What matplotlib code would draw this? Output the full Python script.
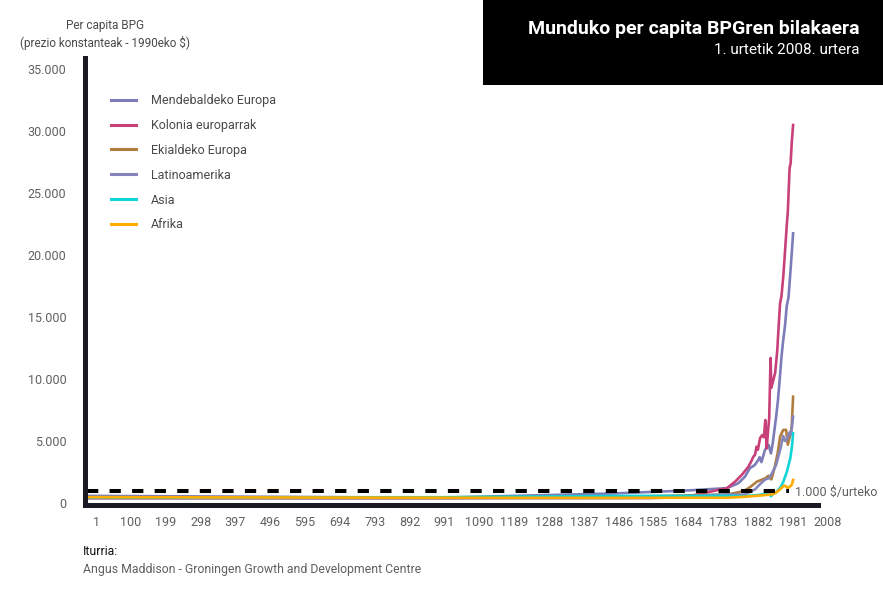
import numpy as np
import matplotlib
matplotlib.use('Agg')
import matplotlib.pyplot as plt
from matplotlib.patches import Rectangle

# ---- data (1990 GK $ per capita) ----
we_years = [1, 1000, 1500, 1600, 1700, 1820, 1852, 1871, 1885, 1899, 1909, 1913, 1918, 1928, 1938, 1945,
            1950, 1955, 1960, 1965, 1970, 1975, 1980, 1985, 1990, 1995, 2000, 2005, 2008]
we_vals = [576, 427, 771, 889, 997, 1200, 1590, 2120, 2800, 3065, 3470, 3700, 3300, 4275, 4700, 4000,
           4800, 5900, 7000, 8300, 10000, 11800, 13150, 14300, 15900, 16600, 18500, 20500, 21750]

off_years = [1, 1000, 1500, 1600, 1700, 1820, 1843, 1862, 1881, 1888, 1895, 1900, 1904, 1908, 1914, 1920,
             1925, 1929, 1933, 1937, 1940, 1944, 1946, 1950, 1957, 1963, 1967, 1971, 1975, 1980, 1984,
             1990, 1993, 1998, 2001, 2004, 2008]
off_vals = [400, 400, 400, 400, 476, 1200, 1720, 2260, 2930, 3300, 3735, 3900, 4540, 4300, 5220, 5480,
            5300, 6690, 4400, 5900, 6800, 11700, 9300, 9700, 10500, 12300, 14300, 16100, 16700, 18250, 19860,
            22400, 23500, 27000, 27400, 29000, 30485]

ee_years = [1, 1000, 1500, 1600, 1700, 1820, 1850, 1870, 1885, 1905, 1929, 1938, 1946, 1950, 1957, 1964,
            1971, 1980, 1988, 1993, 2000, 2004, 2008]
ee_vals = [400, 400, 496, 548, 606, 683, 850, 1000, 1265, 1720, 1990, 2200, 1900, 2260, 3065, 4000,
           5350, 5890, 5900, 4700, 5500, 6150, 8570]

la_years = [1, 1000, 1500, 1600, 1700, 1820, 1870, 1900, 1913, 1929, 1940, 1950, 1960, 1973, 1980, 1985,
            1990, 1998, 2002, 2008]
la_vals = [400, 400, 416, 438, 527, 691, 676, 1100, 1490, 1900, 2000, 2500, 3100, 4500, 5400, 5000,
           5100, 5700, 5500, 6960]

asia_years = [1, 1000, 1500, 1600, 1700, 1820, 1870, 1913, 1940, 1945, 1950, 1960, 1973, 1980, 1990,
              2000, 2005, 2008]
asia_vals = [456, 465, 568, 574, 572, 577, 550, 658, 800, 550, 700, 850, 1300, 1700, 2500,
             3600, 4600, 5620]

afr_years = [1, 1000, 1500, 1600, 1700, 1820, 1870, 1913, 1950, 1960, 1971, 1980, 1985, 1993, 2000,
             2004, 2008]
afr_vals = [472, 425, 414, 422, 421, 420, 500, 600, 700, 850, 1100, 1350, 1400, 1200, 1350,
            1450, 1855]

series_names = ['Mendebaldeko Europa', 'Kolonia europarrak', 'Ekialdeko Europa',
                'Latinoamerika', 'Asia', 'Afrika']
series_colors = ['#7c7cb8', '#c8407a', '#b07d3e', '#8585bb', '#10d4d8', '#ffab00']

threshold_years = [1, 1997]
threshold_value = 1000
threshold_label = '1.000 $/urteko'

y_ticks = [0, 5000, 10000, 15000, 20000, 25000, 30000, 35000]
y_tick_labels = ['0', '5.000', '10.000', '15.000', '20.000', '25.000', '30.000', '35.000']

x_tick_labels = ['1', '100', '199', '298', '397', '496', '595', '694', '793', '892', '991', '1090',
                 '1189', '1288', '1387', '1486', '1585', '1684', '1783', '1882', '1981', '2008']
# the original chart's year labels sit ~26 years to the right of the data they name
x_tick_pos = 27 + 99 * np.arange(len(x_tick_labels))


def main():
    plt.rcParams['font.family'] = 'Roboto'
    grey = '#606060'
    dark = '#4a4a4a'
    axis_col = '#1a1a24'

    fig = plt.figure(figsize=(8.83, 5.91), dpi=100)
    W, H = 883.0, 591.0
    ax = fig.add_axes([84.5 / W, 86 / H, (880 - 84.5) / W, (505 - 58) / H])

    all_years = [we_years, off_years, ee_years, la_years, asia_years, afr_years]
    all_vals = [we_vals, off_vals, ee_vals, la_vals, asia_vals, afr_vals]
    for yrs, vals, name, col in zip(all_years, all_vals, series_names, series_colors):
        ax.plot(yrs, vals, color=col, linewidth=1.9, label=name, solid_joinstyle='round', zorder=2)

    # 1000 $ a year line
    ax.plot(threshold_years, [threshold_value, threshold_value], color='black', linewidth=2.9,
            dashes=[2.8, 2.8], zorder=3)
    ax.text(2013, threshold_value - 150, threshold_label, ha='left', va='center', fontsize=9,
            color=grey, clip_on=False)

    ax.set_xlim(-6.1, 2255)
    ax.set_ylim(-161, 35887)

    for side in ['top', 'right']:
        ax.spines[side].set_visible(False)
    for side in ['left', 'bottom']:
        ax.spines[side].set_linewidth(3.6)
        ax.spines[side].set_color(axis_col)
        ax.spines[side].set_zorder(4)
    ax.spines['bottom'].set_bounds(-6.1, 2079)

    ax.set_yticks(y_ticks, y_tick_labels)
    ax.set_xticks(x_tick_pos, x_tick_labels)
    ax.tick_params(axis='y', length=0, pad=13, labelsize=9, labelcolor=grey)
    ax.tick_params(axis='x', length=0, pad=8, labelsize=9, labelcolor=grey)

    # legend
    leg = fig.legend(loc='upper left', bbox_to_anchor=(111 / W, 1 - 94 / H), frameon=False,
                     fontsize=9, handlelength=2.0, handletextpad=1.2, labelspacing=0.95,
                     borderpad=0, borderaxespad=0)
    for t in leg.get_texts():
        t.set_color(dark)
    for h in leg.get_lines():
        h.set_linewidth(2.2)

    # y axis title
    fig.text(104.5 / W, 1 - 25 / H, 'Per capita BPG', ha='center', va='center', fontsize=8.5,
             color=dark)
    fig.text(104.5 / W, 1 - 42.5 / H, '(prezio konstanteak - 1990eko $)', ha='center', va='center',
             fontsize=8.5, color=dark)

    # title box
    fig.add_artist(Rectangle((483 / W, 1 - 85 / H), 400 / W, 85 / H, transform=fig.transFigure,
                             facecolor='black', edgecolor='none'))
    fig.text(860 / W, 1 - 29 / H, 'Munduko per capita BPGren bilakaera', ha='right', va='center',
             fontsize=14, fontweight='bold', color='white')
    fig.text(860 / W, 1 - 50 / H, '1. urtetik 2008. urtera', ha='right', va='center',
             fontsize=11, color='white')

    # source
    fig.text(83 / W, 1 - 551.5 / H, 'Iturria:', ha='left', va='center', fontsize=8.8, color='#111111')
    fig.text(83 / W, 1 - 569 / H, 'Angus Maddison - Groningen Growth and Development Centre',
             ha='left', va='center', fontsize=8.8, color=grey)

    fig.savefig('out.png', dpi=100)
    plt.close(fig)


if __name__ == '__main__':
    main()
